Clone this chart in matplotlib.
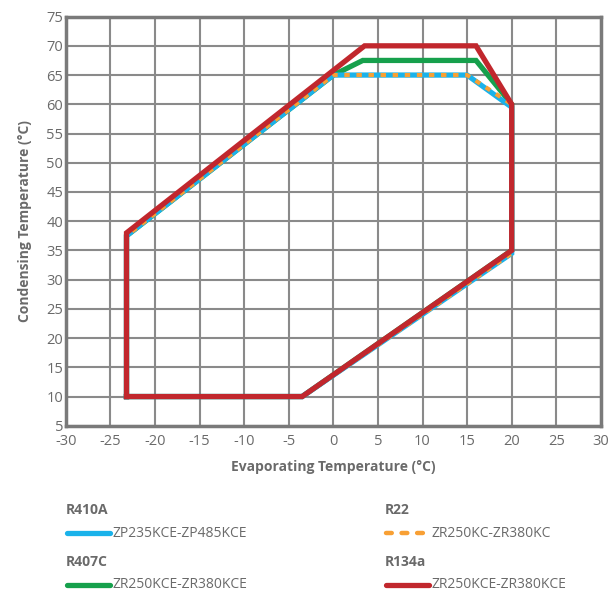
import matplotlib.pyplot as plt
from matplotlib.lines import Line2D

plt.rcParams['font.family'] = ['Open Sans', 'DejaVu Sans']
plt.rcParams['axes.unicode_minus'] = False

# envelope corners (evaporating, condensing) per refrigerant
r410a_x = [-23.2, -3.5, 20, 20, 15, 0, -23.2, -23.2]
r410a_y = [10, 10, 34.5, 59.5, 65, 65, 37.5, 10]
r22_x = [-23.2, -3.5, 20, 20, 15, 0, -23.2, -23.2]
r22_y = [10, 10, 34.5, 60, 65, 65, 37.5, 10]
r407c_x = [-23.2, -3.5, 20, 20, 16, 3.3, 0, -23.2, -23.2]
r407c_y = [10, 10, 35, 60, 67.5, 67.5, 65, 37.5, 10]
r134a_x = [-23.2, -3.5, 20, 20, 16, 3.5, -23.2, -23.2]
r134a_y = [10, 10, 35, 60, 70, 70, 38, 10]

refrigerants = ['R410A', 'R22', 'R407C', 'R134a']
models = ['ZP235KCE-ZP485KCE', 'ZR250KC-ZR380KC', 'ZR250KCE-ZR380KCE', 'ZR250KCE-ZR380KCE']

x_ticks = list(range(-30, 31, 5))
y_ticks = list(range(5, 76, 5))

blue = '#1ab2ea'
orange = '#f8a034'
green = '#16a04c'
red = '#c1272d'
gray = '#7a7a7a'
txt = '#6a6a6a'

fig = plt.figure(figsize=(6.1, 5.93), dpi=100)
ax = fig.add_axes([0.108, 0.282, 0.877, 0.69])

ax.plot(r407c_x, r407c_y, color=green, lw=3.8, zorder=3, solid_joinstyle='miter')
ax.plot(r410a_x, r410a_y, color=blue, lw=3.8, zorder=4, solid_joinstyle='miter')
ax.plot(r22_x, r22_y, color=orange, lw=3.0, ls=(0, (1.3, 1.6)), zorder=5)
ax.plot(r134a_x, r134a_y, color=red, lw=3.8, zorder=6, solid_joinstyle='miter')

ax.set_xlim(-30, 30)
ax.set_ylim(5, 75)
ax.set_xticks(x_ticks)
ax.set_yticks(y_ticks)
ax.grid(True, color='#8a8a8a', lw=1.5)
ax.set_axisbelow(True)
for s in ax.spines.values():
    s.set_color(gray)
    s.set_linewidth(2.5)
ax.tick_params(axis='x', length=0, labelsize=10.5, colors=txt, pad=6)
ax.tick_params(axis='y', length=0, labelsize=10.5, colors=txt, pad=2)
ax.set_xlabel('Evaporating Temperature (°C)', fontsize=10, fontweight='bold', color=txt, labelpad=8)
ax.set_ylabel('Condensing Temperature (°C)', fontsize=10, fontweight='bold', color=txt, labelpad=10)

# legend laid out in two columns below the chart
colors = [blue, orange, green, red]
styles = ['-', (0, (1.3, 2.2)), '-', '-']
pos = [(0.108, 0.101), (0.631, 0.101), (0.108, 0.0135), (0.631, 0.0135)]
for name, model, c, st, (x0, y0) in zip(refrigerants, models, colors, styles, pos):
    fig.text(x0, y0 + 0.039, name, fontsize=10, fontweight='bold', color=txt, va='center')
    fig.add_artist(Line2D([x0 + 0.002, x0 + 0.072], [y0, y0], color=c, lw=3.8 if st == '-' else 3.2,
                          ls=st, solid_capstyle='round', dash_capstyle='round'))
    fig.text(x0 + 0.076, y0, model, fontsize=10, color=txt, va='center')

fig.savefig('out.png', dpi=100)
